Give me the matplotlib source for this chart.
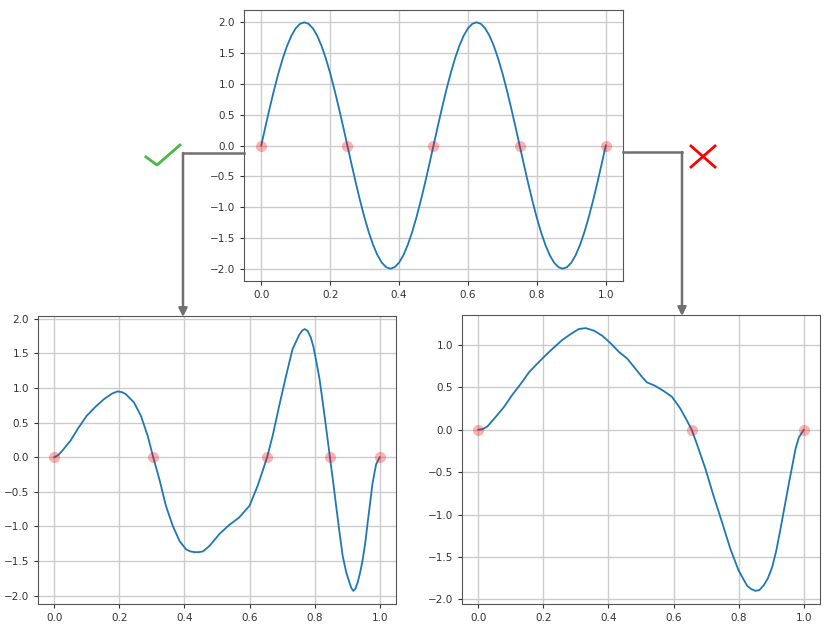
import matplotlib.pyplot as plt
from matplotlib.lines import Line2D
from matplotlib.patches import FancyArrowPatch

# top panel: the reference wave, read every 0.0125
top_x = [i * 0.0125 for i in range(81)]
top_y = [0, 0.313, 0.618, 0.908, 1.176, 1.414, 1.618, 1.782, 1.902, 1.975, 2.0,
         1.975, 1.902, 1.782, 1.618, 1.414, 1.176, 0.908, 0.618, 0.313, 0,
         -0.313, -0.618, -0.908, -1.176, -1.414, -1.618, -1.782, -1.902, -1.975, -2.0,
         -1.975, -1.902, -1.782, -1.618, -1.414, -1.176, -0.908, -0.618, -0.313, 0,
         0.313, 0.618, 0.908, 1.176, 1.414, 1.618, 1.782, 1.902, 1.975, 2.0,
         1.975, 1.902, 1.782, 1.618, 1.414, 1.176, 0.908, 0.618, 0.313, 0,
         -0.313, -0.618, -0.908, -1.176, -1.414, -1.618, -1.782, -1.902, -1.975, -2.0,
         -1.975, -1.902, -1.782, -1.618, -1.414, -1.176, -0.908, -0.618, -0.313, 0]
top_zeros = [0, 0.25, 0.5, 0.75, 1.0]

# bottom left: same zero count (good case)
left_x = [0, 0.012, 0.024, 0.05, 0.075, 0.10, 0.127, 0.153, 0.178, 0.194, 0.208, 0.22,
          0.245, 0.266, 0.287, 0.304, 0.323, 0.343, 0.364, 0.385, 0.405, 0.418, 0.431,
          0.444, 0.457, 0.477, 0.507, 0.537, 0.568, 0.6, 0.625, 0.64, 0.654, 0.671,
          0.691, 0.712, 0.732, 0.753, 0.762, 0.77, 0.779, 0.788, 0.796, 0.804, 0.815,
          0.825, 0.836, 0.847, 0.857, 0.866, 0.876, 0.886, 0.897, 0.907, 0.913, 0.919,
          0.925, 0.932, 0.94, 0.948, 0.956, 0.963, 0.971, 0.978, 0.989, 1.0]
left_y = [0, 0.03, 0.09, 0.24, 0.43, 0.60, 0.73, 0.84, 0.92, 0.95, 0.94, 0.91,
          0.79, 0.60, 0.31, 0, -0.32, -0.70, -0.99, -1.21, -1.33, -1.36, -1.37,
          -1.37, -1.36, -1.28, -1.11, -0.98, -0.87, -0.70, -0.41, -0.20, 0, 0.31,
          0.74, 1.17, 1.56, 1.77, 1.83, 1.85, 1.82, 1.73, 1.60, 1.41, 1.13,
          0.79, 0.40, 0, -0.36, -0.70, -1.07, -1.42, -1.66, -1.81, -1.89, -1.93,
          -1.90, -1.81, -1.66, -1.47, -1.22, -0.94, -0.64, -0.37, -0.10, 0]
left_zeros = [0, 0.304, 0.654, 0.847, 1.0]

# bottom right: too few zeros (bad case)
right_x = [0, 0.014, 0.028, 0.053, 0.079, 0.104, 0.13, 0.156, 0.181, 0.207, 0.232, 0.258,
           0.284, 0.309, 0.33, 0.356, 0.381, 0.407, 0.432, 0.458, 0.483, 0.504,
           0.518, 0.543, 0.569, 0.595, 0.621, 0.641, 0.656, 0.672, 0.698, 0.723,
           0.749, 0.775, 0.8, 0.826, 0.839, 0.852, 0.864, 0.878, 0.89, 0.903, 0.916,
           0.929, 0.942, 0.955, 0.965, 0.975, 0.985, 1.0]
right_y = [0, 0.01, 0.04, 0.15, 0.27, 0.41, 0.54, 0.68, 0.78, 0.88, 0.97, 1.06,
           1.13, 1.19, 1.20, 1.17, 1.11, 1.02, 0.92, 0.84, 0.72, 0.62,
           0.56, 0.52, 0.46, 0.39, 0.25, 0.11, 0, -0.17, -0.46, -0.78,
           -1.09, -1.41, -1.66, -1.84, -1.88, -1.90, -1.89, -1.83, -1.75, -1.62, -1.42,
           -1.16, -0.89, -0.62, -0.42, -0.22, -0.09, 0]
right_zeros = [0, 0.656, 1.0]

W, H = 831, 630
fig = plt.figure(figsize=(W / 100, H / 100), dpi=100)


def px_axes(l, r, t, b):
    # axes box from pixel edges
    return fig.add_axes([l / W, 1 - b / H, (r - l) / W, (b - t) / H])


def draw(ax, xs, ys, zeros):
    ax.plot(xs, ys, color='#1f77b4', lw=1.3)
    ax.plot(zeros, [0] * len(zeros), 'o', color='red', alpha=0.3,
            markersize=8, markeredgewidth=0)
    ax.grid(True, color='#cccccc', lw=1)
    ax.set_axisbelow(True)
    ax.tick_params(labelsize=7.5, colors='#333333', length=3)
    for s in ax.spines.values():
        s.set_color('#555555')
    ax.set_xticks([0.0, 0.2, 0.4, 0.6, 0.8, 1.0])


ax_top = px_axes(244, 623, 10, 281)
draw(ax_top, top_x, top_y, top_zeros)
ax_top.set_yticks([-2.0, -1.5, -1.0, -0.5, 0.0, 0.5, 1.0, 1.5, 2.0])

ax_l = px_axes(38, 396, 316, 604)
draw(ax_l, left_x, left_y, left_zeros)
ax_l.set_yticks([-2.0, -1.5, -1.0, -0.5, 0.0, 0.5, 1.0, 1.5, 2.0])

ax_r = px_axes(462, 820, 315, 604)
draw(ax_r, right_x, right_y, right_zeros)


def fxy(x, y):
    return (x / W, 1 - y / H)


# connectors between panels
grey = '#707070'
fig.add_artist(Line2D(*zip(fxy(244, 153), fxy(183, 153)), color=grey, lw=1.8,
                      transform=fig.transFigure))
fig.add_artist(FancyArrowPatch(fxy(183, 153), fxy(183, 317), transform=fig.transFigure,
                               arrowstyle='-|>,head_length=5,head_width=2.5',
                               color=grey, lw=1.8, shrinkA=0, shrinkB=0))
fig.add_artist(Line2D(*zip(fxy(623, 152), fxy(682, 152)), color=grey, lw=1.8,
                      transform=fig.transFigure))
fig.add_artist(FancyArrowPatch(fxy(682, 152), fxy(682, 316), transform=fig.transFigure,
                               arrowstyle='-|>,head_length=5,head_width=2.5',
                               color=grey, lw=1.8, shrinkA=0, shrinkB=0))

# check mark and cross
fig.add_artist(Line2D(*zip(fxy(146, 157), fxy(157, 165), fxy(180, 145)),
                      color='#44bb44', lw=2, transform=fig.transFigure))
fig.add_artist(Line2D(*zip(fxy(691, 146), fxy(715, 167)), color='red', lw=2,
                      transform=fig.transFigure))
fig.add_artist(Line2D(*zip(fxy(691, 167), fxy(715, 146)), color='red', lw=2,
                      transform=fig.transFigure))

plt.savefig('out.png', dpi=100)
